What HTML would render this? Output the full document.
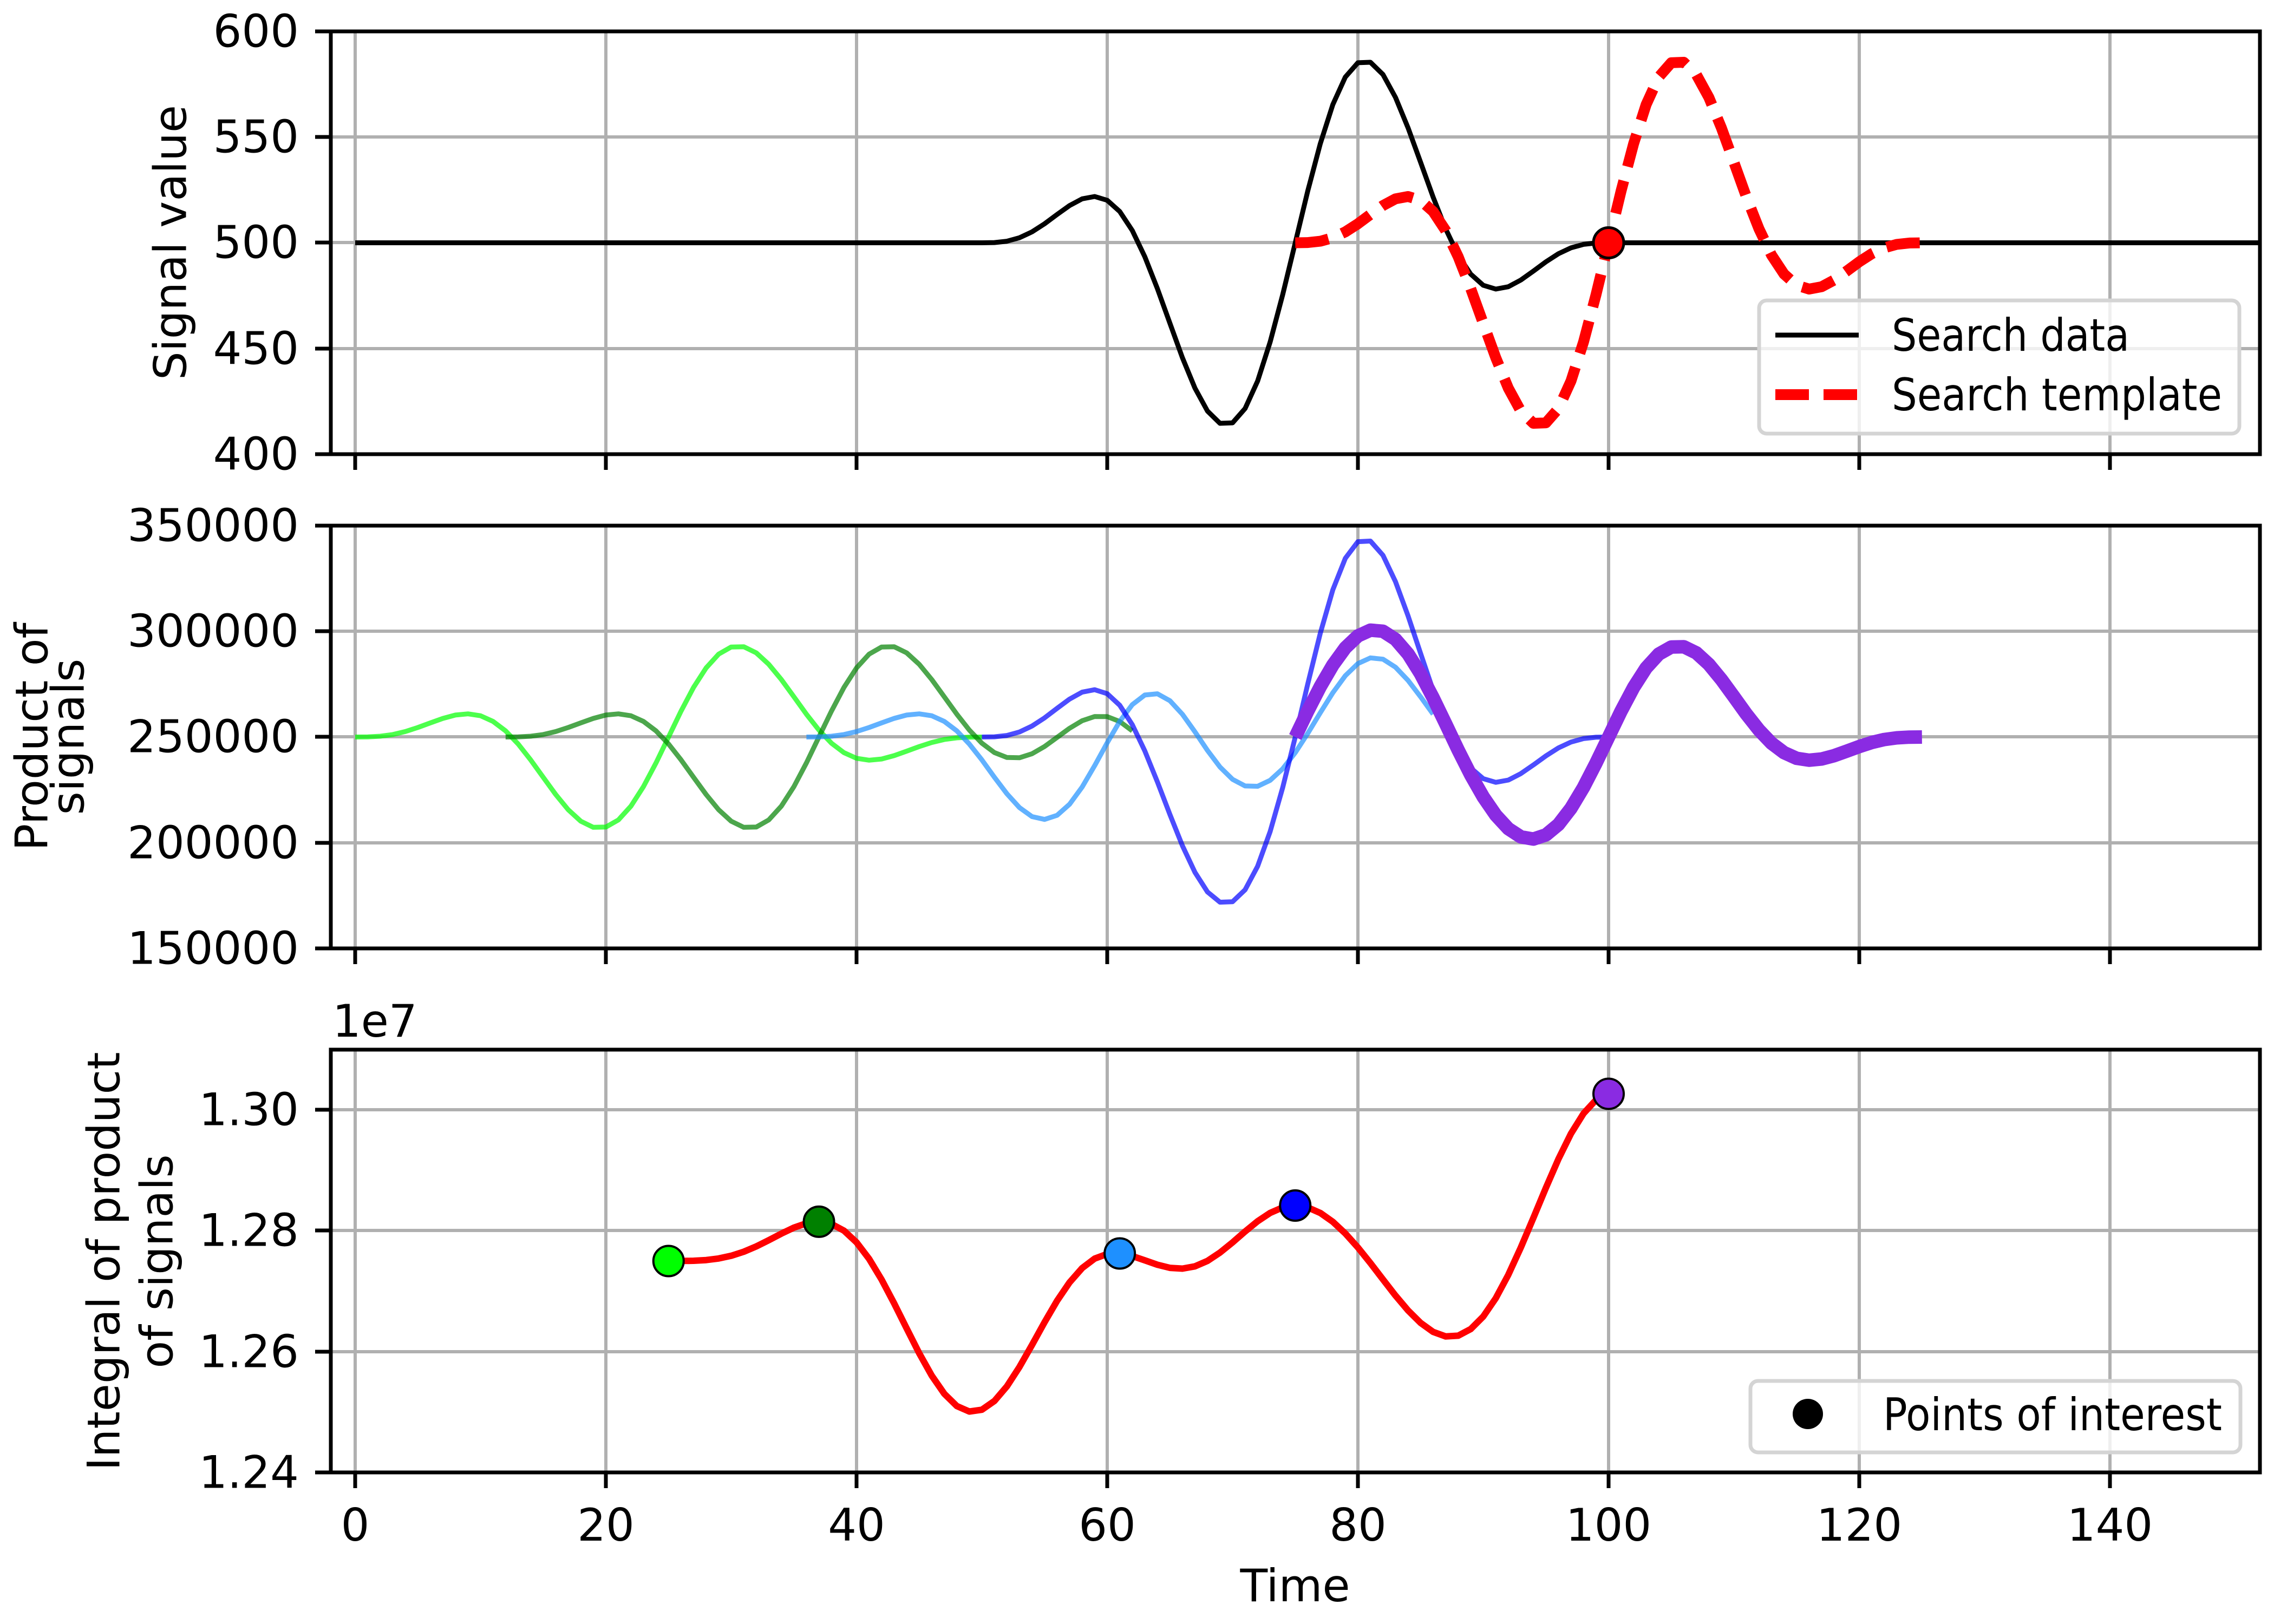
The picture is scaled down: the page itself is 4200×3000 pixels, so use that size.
<!DOCTYPE html>
<html><head><meta charset="utf-8">
<style>html,body{margin:0;padding:0;background:#fff}svg{display:block}text{font-family:"DejaVu Sans","Liberation Sans",sans-serif;font-size:83px;fill:#000}</style>
</head><body>
<svg id="s" width="4200" height="3000" viewBox="0 0 4200 3000" xmlns="http://www.w3.org/2000/svg">
<defs>
<clipPath id="c1"><rect x="611" y="58" width="3563" height="781"/></clipPath>
<clipPath id="c2"><rect x="611" y="971" width="3563" height="781"/></clipPath>
<clipPath id="c3"><rect x="611" y="1939" width="3563" height="781"/></clipPath>
</defs>
<g id="grid" stroke="#b0b0b0" stroke-width="6"></g>
<g id="plots"></g>
<g id="frame" fill="none" stroke="#000" stroke-width="7">
<rect x="611" y="58" width="3563" height="781"/>
<rect x="611" y="971" width="3563" height="781"/>
<rect x="611" y="1939" width="3563" height="781"/>
</g>
<g id="ticks" stroke="#000" stroke-width="7"></g>
<g text-anchor="end" dominant-baseline="central">
<text x="552" y="58">600</text><text x="552" y="253">550</text><text x="552" y="448">500</text><text x="552" y="644">450</text><text x="552" y="839">400</text>
<text x="552" y="971">350000</text><text x="552" y="1166">300000</text><text x="552" y="1361">250000</text><text x="552" y="1557">200000</text><text x="552" y="1752">150000</text>
<text x="552" y="2050">1.30</text><text x="552" y="2273">1.28</text><text x="552" y="2497">1.26</text><text x="552" y="2720">1.24</text>
</g>
<g text-anchor="middle">
<text x="656" y="2846">0</text><text x="1119" y="2846">20</text><text x="1582" y="2846">40</text><text x="2045" y="2846">60</text><text x="2508" y="2846">80</text><text x="2971" y="2846">100</text><text x="3434" y="2846">120</text><text x="3897" y="2846">140</text>
<text x="2392" y="2958">Time</text>
</g>
<text x="614" y="1915">1e7</text>
<g text-anchor="middle" dominant-baseline="central">
<text transform="translate(315,448) rotate(-90)">Signal value</text>
<text transform="translate(59,1361) rotate(-90)">Product of</text>
<text transform="translate(126,1361) rotate(-90)">signals</text>
<text transform="translate(192,2330) rotate(-90)">Integral of product</text>
<text transform="translate(290,2330) rotate(-90)">of signals</text>
</g>
<rect x="3249" y="555" width="887" height="246" rx="14" fill="#fff" fill-opacity="0.8" stroke="#d4d4d4" stroke-width="7"/>
<line x1="3279" y1="619" x2="3433" y2="619" stroke="#000" stroke-width="9"/>
<line x1="3279" y1="729" x2="3445" y2="729" stroke="#f00" stroke-width="20" stroke-dasharray="62,27"/>
<text x="3494" y="648" textLength="439" lengthAdjust="spacingAndGlyphs">Search data</text>
<text x="3494" y="758" textLength="610" lengthAdjust="spacingAndGlyphs">Search template</text>
<rect x="3233" y="2551" width="905" height="132" rx="14" fill="#fff" fill-opacity="0.8" stroke="#d4d4d4" stroke-width="7"/>
<circle cx="3339" cy="2612" r="28" fill="#000"/>
<text x="3478" y="2642" textLength="626" lengthAdjust="spacingAndGlyphs">Points of interest</text>
</svg>
<script>
(function(){
var NS="http://www.w3.org/2000/svg";
function el(parent,tag,attrs){var e=document.createElementNS(NS,tag);for(var k in attrs)e.setAttribute(k,attrs[k]);document.getElementById(parent)?document.getElementById(parent).appendChild(e):parent.appendChild(e);return e;}
function X(t){return 656+t*23.15;}
function Y1(v){return 839-(v-400)*781/200;}
function Y2(p){return 1752-(p-150000)*781/200000;}
function Y3(I){return 2720-(I-1.24e7)*781/700000;}
var A=99;
function w(u){if(u<0||u>50)return 0;return A*Math.sin(2*Math.PI*u/25)*Math.pow(Math.sin(Math.PI*u/50),2);}
function d(t){return 500+w(t-50);}
function tm(s,t){return 500+w(t-s);}
var g=document.getElementById('grid'),tk=document.getElementById('ticks');
for(var t=0;t<=140;t+=20){
  [[58,839],[971,1752],[1939,2720]].forEach(function(r){
    el(g,'line',{x1:X(t),y1:r[0],x2:X(t),y2:r[1]});
    el(tk,'line',{x1:X(t),y1:r[1],x2:X(t),y2:r[1]+29});
  });
}
[58,253,448,644,839,971,1166,1361,1557,1752,2050,2273,2497,2720].forEach(function(y){
  if(y!==58&&y!==839&&y!==971&&y!==1752&&y!==2720) el(g,'line',{x1:611,y1:y,x2:4174,y2:y});
  el(tk,'line',{x1:582,y1:y,x2:611,y2:y});
});
var P=document.getElementById('plots');
function path(pts,clip,attrs){var s='M'+pts.map(function(p){return p[0].toFixed(1)+','+p[1].toFixed(1);}).join('L');
  var a={d:s,fill:'none','clip-path':'url(#'+clip+')','stroke-linejoin':'round'};for(var k in attrs)a[k]=attrs[k];el(P,'path',a);}
var pts=[];for(var t=0;t<=152;t++)pts.push([X(t),Y1(d(t))]);
path(pts,'c1',{stroke:'#000','stroke-width':9});
pts=[];for(var t=75;t<=125;t++)pts.push([X(t),Y1(tm(75,t))]);
path(pts,'c1',{stroke:'#f00','stroke-width':20,'stroke-dasharray':'62,27'});
el(P,'circle',{cx:X(100),cy:Y1(500),r:28,fill:'#f00',stroke:'#000','stroke-width':5});
var series=[[0,'rgba(0,255,0,0.7)',9],[12,'rgba(0,128,0,0.7)',9],[36,'rgba(30,144,255,0.7)',9],[50,'rgba(0,0,255,0.7)',9],[75,'#8a2be2',25]];
series.forEach(function(sr){var s=sr[0];var p=[];for(var t=s;t<=s+50;t++)p.push([X(t),Y2(d(t)*tm(s,t))]);path(p,'c2',{stroke:sr[1],'stroke-width':sr[2]});});
function I(c){var s=c-25,sum=0;for(var t=s;t<=s+50;t++)sum+=d(t)*tm(s,t);return sum;}
pts=[];for(var c=25;c<=100;c++)pts.push([X(c),Y3(I(c))]);
path(pts,'c3',{stroke:'#f00','stroke-width':12});
[[25,'#00ff00'],[37,'#008000'],[61,'#1e90ff'],[75,'#0000ff'],[100,'#8a2be2']].forEach(function(m){
  el(P,'circle',{cx:X(m[0]),cy:Y3(I(m[0])),r:28,fill:m[1],stroke:'#000','stroke-width':4});
});
})();
</script>
</body></html>
